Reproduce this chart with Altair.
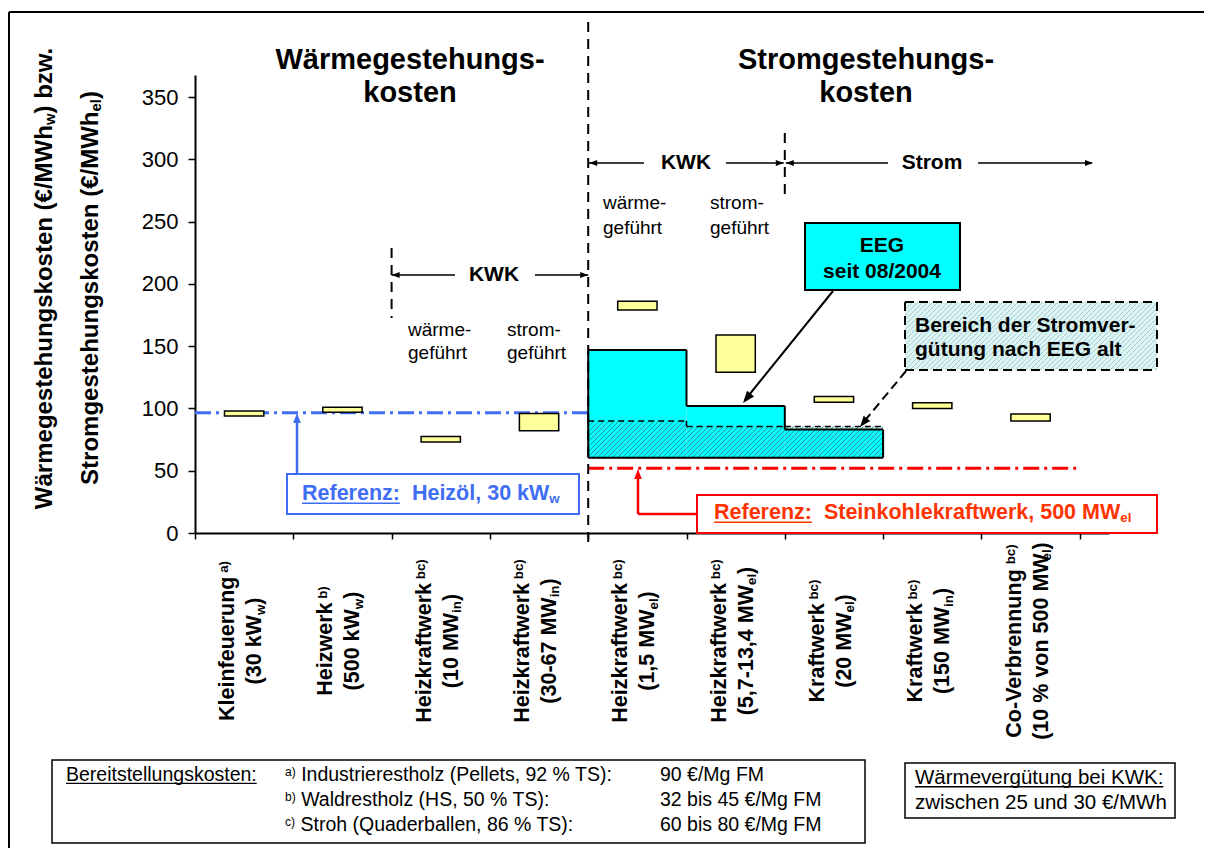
import math
import altair as alt
import pandas as pd

FONT = "Liberation Sans"

# ---------------- chart values ----------------
categories = ["Kleinfeuerung (30 kWw)", "Heizwerk (500 kWw)", "Heizkraftwerk (10 MWin)",
              "Heizkraftwerk (30-67 MWin)", "Heizkraftwerk (1,5 MWel)", "Heizkraftwerk (5,7-13,4 MWel)",
              "Kraftwerk (20 MWel)", "Kraftwerk (150 MWin)", "Co-Verbrennung (10 % von 500 MWel)"]
label_name = ["Kleinfeuerung", "Heizwerk", "Heizkraftwerk", "Heizkraftwerk", "Heizkraftwerk",
              "Heizkraftwerk", "Kraftwerk", "Kraftwerk", "Co-Verbrennung"]
label_note = ["a)", "b)", "bc)", "bc)", "bc)", "bc)", "bc)", "bc)", "bc)"]
label_size = ["(30 kW", "(500 kW", "(10 MW", "(30-67 MW", "(1,5 MW", "(5,7-13,4 MW",
              "(20 MW", "(150 MW", "(10 % von 500 MW"]
label_unit = ["w", "w", "in", "in", "el", "el", "el", "in", "el"]
cost_low = [94, 97, 73, 82, 179, 129, 105, 100, 90]
cost_high = [98, 101, 77.5, 96, 186, 159, 109.5, 104.5, 95.5]
eeg_new_top = [147, 102, 83]
eeg_old_top = [90, 85.5, 85.5]
eeg_base = 60.5
eeg_first = 4
ref_heat = 96.5
ref_power = 52
y_ticks = [0, 50, 100, 150, 200, 250, 300, 350]

# ---------------- geometry ----------------
X0, XS, Y0, YS = 195.0, 98.3, 533.0, 1.2457
PW, PH = 914, 458
XMAX, YMAX = PW / XS, PH / YS
TOT_W, TOT_H = 1196, 840


def X(px):
    return (px - X0) / XS


def Y(py):
    return (Y0 - py) / YS


def PX(x):
    return X0 + x * XS


def PY(v):
    return Y0 - v * YS


def _tbl(spec):
    d = {}
    for chars, w in spec:
        for c in chars:
            d[c] = w
    return d


REG = _tbl([(" ,./:;", 278), ("()-r", 333), ("ftI", 278), ("ijl", 222), ("0123456789€", 556),
            ("%", 889), ("abdeghnopquäöü", 556), ("ckszvxy", 500), ("m", 833), ("w", 722),
            ("ABEKPSVXY", 667), ("CDHNRU", 722), ("FTZ", 611), ("GOQ", 778), ("L", 556),
            ("M", 833), ("W", 944)])
BOLD = _tbl([(" ,./", 278), (":;()-!tf", 333), ("ijlI", 278), ("r", 389), ("z", 500),
             ("0123456789€acekvsxyä", 556), ("bdghnopquöü", 611), ("m", 889), ("w", 778),
             ("ABCDHKNRU", 722), ("EPSVX", 667), ("FTLZ", 611), ("GOQ", 778), ("M", 833),
             ("W", 944)])


def tw(s, size, bold):
    t = BOLD if bold else REG
    return sum(t.get(c, 556) for c in s) * size / 1000.0


texts, rules, heads, rects = [], [], [], []


def rule_px(x1, y1, x2, y2, color="black", w=2.0, dash="solid", layer="front"):
    rules.append(dict(x=X(x1), y=Y(y1), x2=X(x2), y2=Y(y2), color=color, w=w, dash=dash, layer=layer))


def rule_d(x1, v1, x2, v2, color="black", w=2.0, dash="solid", layer="front"):
    rules.append(dict(x=x1, y=v1, x2=x2, y2=v2, color=color, w=w, dash=dash, layer=layer))


def head(px, py, angle, color="black", length=10):
    heads.append(dict(x=X(px), y=Y(py), angle=angle, color=color, size=(2 * length) ** 2))


def rect_px(x1, y1, x2, y2, fill="white", stroke="black", sw=2.0):
    rects.append(dict(x=X(x1), y=Y(y1), x2=X(x2), y2=Y(y2), fill=fill, stroke=stroke, sw=sw))


def line(segs, cx, cy, size, bold=False, color="black", angle=0, align="center"):
    small = size * 0.62
    sizes = [size if k in ("n", "u") else small for _, k in segs]
    ws = [tw(t, s, bold) for (t, _), s in zip(segs, sizes)]
    total = sum(ws)
    pos = {"center": -total / 2, "left": 0.0, "right": -total}[align]
    for (t, k), s, w in zip(segs, sizes, ws):
        lead = len(t) - len(t.lstrip(" "))
        p = pos + tw(" " * lead, s, bold)
        off = {"n": 0.0, "u": 0.0, "sub": 0.25 * size, "sup": -0.17 * size}[k]
        if angle == 0:
            ax, ay = cx + p, cy + off
        else:
            ax, ay = cx + off, cy - p
        texts.append(dict(x=X(ax), y=Y(ay), text=t.strip(), size=s, color=color,
                          bold=bold, angle=angle))
        if k == "u":
            uy = cy + 0.43 * size
            rule_px(cx + p, uy, cx + pos + w, uy, color=color, w=max(1.0, size / 14.0))
        pos += w


def hatch(px0, px1, py0, py1, color, spacing=5.0, w=1.0):
    c = math.ceil((px0 + py0) / spacing) * spacing
    while c <= px1 + py1:
        xa = max(px0, c - py1)
        xb = min(px1, c - py0)
        if xb - xa > 0.3:
            rule_px(xa, c - xa, xb, c - xb, color=color, w=w, layer="hatch")
        c += spacing


BLUE = "#3f6ef5"
RED = "#ff0000"
RED_TXT = "#ff3300"

# ---------------- frame ----------------
rule_px(9, 12, 1204, 12, w=2, layer="back")
rule_px(9, 12, 9, 848, w=2, layer="back")

# ---------------- reference lines ----------------
rule_d(0, ref_heat, eeg_first, ref_heat, color=BLUE, w=3, dash="dashdot", layer="back")
rule_d(eeg_first, ref_power, 9, ref_power, color=RED, w=3, dash="dashdot", layer="back")

# ---------------- EEG areas ----------------
eeg_df = pd.DataFrame({"x0": [eeg_first + i for i in range(3)],
                       "x1": [eeg_first + i + 1 for i in range(3)],
                       "base": [eeg_base] * 3, "new": eeg_new_top, "old": eeg_old_top})
for i in range(3):
    hatch(PX(eeg_first + i), PX(eeg_first + i + 1), PY(eeg_old_top[i]), PY(eeg_base), "#2f9595")
for i in range(3):
    rule_d(eeg_first + i, eeg_old_top[i], eeg_first + i + 1, eeg_old_top[i], w=1.5, dash="fine")
    if i < 2 and eeg_old_top[i] != eeg_old_top[i + 1]:
        rule_d(eeg_first + i + 1, eeg_old_top[i], eeg_first + i + 1, eeg_old_top[i + 1], w=1.5, dash="fine")
rule_d(eeg_first, eeg_base, eeg_first, eeg_new_top[0], w=2)
for i in range(3):
    rule_d(eeg_first + i, eeg_new_top[i], eeg_first + i + 1, eeg_new_top[i], w=2)
    if i < 2:
        rule_d(eeg_first + i + 1, eeg_new_top[i], eeg_first + i + 1, eeg_new_top[i + 1], w=2)
rule_d(eeg_first + 3, eeg_new_top[2], eeg_first + 3, eeg_base, w=2)
rule_d(eeg_first, eeg_base, eeg_first + 3, eeg_base, w=2)

# ---------------- dividers ----------------
rule_px(PX(4), 22, PX(4), 545, w=2, dash="dash")
rule_px(PX(2), 248, PX(2), 318, w=2, dash="dash")
rule_px(PX(6), 133, PX(6), 200, w=2, dash="dash")

# ---------------- titles ----------------
line([("Wärmegestehungs-", "n")], 410, 60, 29, bold=True)
line([("kosten", "n")], 410, 93, 29, bold=True)
line([("Stromgestehungs-", "n")], 866, 60, 29, bold=True)
line([("kosten", "n")], 866, 93, 29, bold=True)

# ---------------- y title ----------------
line([("Wärmegestehungskosten (€/MWh", "n"), ("w", "sub"), (") bzw.", "n")], 45, 278, 24, bold=True, angle=270)
line([("Stromgestehungskosten (€/MWh", "n"), ("el", "sub"), (")", "n")], 91, 288, 24, bold=True, angle=270)

# ---------------- category labels ----------------
for i in range(len(categories)):
    c = PX(i + 0.5)
    line([(label_name[i], "n"), (" " + label_note[i], "sup")], c - 16, 641, 21.5, bold=True, angle=270)
    line([(label_size[i], "n"), (label_unit[i], "sub"), (")", "n")], c + 11, 641, 21.5, bold=True, angle=270)

# ---------------- KWK / Strom annotations ----------------
rule_px(PX(2), 275, 455, 275, w=1.5)
rule_px(535, 275, PX(4), 275, w=1.5)
head(PX(2), 275, 270, length=8)
head(PX(4), 275, 90, length=8)
line([("KWK", "n")], 494, 275, 21, bold=True)
line([("wärme-", "n")], 408, 330, 19, align="left")
line([("geführt", "n")], 408, 353, 19, align="left")
line([("strom-", "n")], 507, 330, 19, align="left")
line([("geführt", "n")], 507, 353, 19, align="left")

rule_px(PX(4), 163, 644, 163, w=1.5)
rule_px(726, 163, PX(6) - 1, 163, w=1.5)
head(PX(4) + 1, 163, 270, length=8)
head(PX(6) - 1, 163, 90, length=8)
line([("KWK", "n")], 686, 163, 21, bold=True)
rule_px(PX(6) + 1, 163, 888, 163, w=1.5)
rule_px(978, 163, 1092, 163, w=1.5)
head(PX(6) + 1, 163, 270, length=8)
head(1093, 163, 90, length=8)
line([("Strom", "n")], 932, 163, 21, bold=True)
line([("wärme-", "n")], 603, 203, 19, align="left")
line([("geführt", "n")], 603, 228, 19, align="left")
line([("strom-", "n")], 710, 203, 19, align="left")
line([("geführt", "n")], 710, 228, 19, align="left")

# ---------------- EEG boxes ----------------
rect_px(805, 223, 960, 290, fill="#00ffff", stroke="black", sw=2)
line([("EEG", "n")], 882, 246, 21, bold=True)
line([("seit 08/2004", "n")], 882, 272, 21, bold=True)
rule_px(833, 291, 745, 400, w=2)
head(743, 403, 219, length=12)

rect_px(905, 302, 1157, 370, fill="#dcf4f4", stroke="black", sw=0)
hatch(905, 1157, 302, 370, "#a9cfcf")
for (a, b, c_, d) in [(905, 302, 1157, 302), (905, 370, 1157, 370), (905, 302, 905, 370), (1157, 302, 1157, 370)]:
    rule_px(a, b, c_, d, w=2, dash="bdash")
line([("Bereich der Stromver-", "n")], 915, 326, 21, bold=True, align="left")
line([("gütung nach EEG alt", "n")], 915, 350, 21, bold=True, align="left")
rule_px(906, 371, 862, 424, w=2, dash="bdash")
head(860, 427, 219, length=11)

# ---------------- reference boxes ----------------
rect_px(287, 474, 579, 514, fill="white", stroke=BLUE, sw=2)
line([("Referenz:", "u"), ("  Heizöl, 30 kW", "n"), ("w", "sub")], 302, 494, 21.5, bold=True, color=BLUE, align="left")
rule_px(297, 474, 297, 422, color=BLUE, w=2.5)
head(297, 413, 0, color=BLUE, length=10)

rect_px(697, 495, 1157, 533, fill="white", stroke=RED, sw=2)
line([("Referenz:", "u"), ("  Steinkohlekraftwerk, 500 MW", "n"), ("el", "sub")], 714, 513, 21.5, bold=True, color=RED_TXT, align="left")
rule_px(697, 514, 638, 514, color=RED, w=2.5)
rule_px(638, 514, 638, 478, color=RED, w=2.5)
head(638, 469, 0, color=RED, length=10)

# ---------------- bottom boxes ----------------
rect_px(52, 760, 865, 843, fill="white", stroke="black", sw=1.5)
line([("Bereitstellungskosten:", "u")], 66, 775, 19.5, align="left")
rows = [("a)", " Industrierestholz (Pellets, 92 % TS):", "90 €/Mg FM"),
        ("b)", " Waldrestholz (HS, 50 % TS):", "32 bis 45 €/Mg FM"),
        ("c)", " Stroh (Quaderballen, 86 % TS):", "60 bis 80 €/Mg FM")]
for j, (n, t, v) in enumerate(rows):
    yy = 775 + 25 * j
    line([(n, "sup"), (t, "n")], 285, yy, 19.5, align="left")
    line([(v, "n")], 660, yy, 19.5, align="left")

rect_px(905, 763, 1175, 818, fill="white", stroke="black", sw=1.5)
line([("Wärmevergütung bei KWK:", "u")], 915, 778, 20.5, align="left")
line([("zwischen 25 und 30 €/MWh", "n")], 915, 803, 20.5, align="left")

# ---------------- build chart ----------------
xs = alt.Scale(domain=[0, XMAX], nice=False, zero=False)
ys = alt.Scale(domain=[0, YMAX], nice=False, zero=False)
AXX = alt.Axis(values=list(range(10)), labels=False, title=None, grid=False, tickSize=6,
               tickColor="black", tickWidth=1.5, domainColor="black", domainWidth=2)
AXY = alt.Axis(values=y_ticks, title=None, grid=False, labelFont=FONT, labelFontSize=22,
               labelColor="black", tickSize=7, tickColor="black", tickWidth=1.5,
               domainColor="black", domainWidth=2, labelPadding=10)


def ex(f="x"):
    return alt.X(f"{f}:Q", scale=xs, axis=AXX)


def ey(f="y"):
    return alt.Y(f"{f}:Q", scale=ys, axis=AXY)


DASH = {"dash": [10, 7], "dashdot": [16, 5, 3, 5], "bdash": [9, 5], "fine": [6, 4]}


def rule_layers(layer):
    df = pd.DataFrame([r for r in rules if r["layer"] == layer])
    out = []
    for (dash, w), g in df.groupby(["dash", "w"]):
        kw = dict(strokeWidth=float(w))
        if dash != "solid":
            kw["strokeDash"] = DASH[dash]
        out.append(alt.Chart(g).mark_rule(**kw).encode(
            x=ex("x"), y=ey("y"), x2="x2:Q", y2="y2:Q",
            color=alt.Color("color:N", scale=None)))
    return out


bdf = pd.DataFrame({"cat": categories, "low": cost_low, "high": cost_high,
                    "pos": list(range(len(categories)))})
boxes = alt.Chart(bdf).transform_calculate(
    x0="datum.pos + 0.3", x1="datum.pos + 0.7"
).mark_rect(fill="#ffff99", stroke="black", strokeWidth=1.5).encode(
    x=ex("x0"), x2="x1:Q", y=ey("low"), y2="high:Q",
    tooltip=["cat:N", "low:Q", "high:Q"],
)

hatch_fill = alt.Chart(eeg_df).mark_rect(fill="#d8f6f6", strokeWidth=0).encode(
    x=ex("x0"), x2="x1:Q", y=ey("base"), y2="old:Q")
cyan = alt.Chart(eeg_df).mark_rect(fill="#00ffff", strokeWidth=0).encode(
    x=ex("x0"), x2="x1:Q", y=ey("base"), y2="new:Q")

rdf = pd.DataFrame(rects)
ann_rects = alt.Chart(rdf).mark_rect().encode(
    x=ex("x"), x2="x2:Q", y=ey("y"), y2="y2:Q",
    fill=alt.Fill("fill:N", scale=None), stroke=alt.Stroke("stroke:N", scale=None),
    strokeWidth=alt.StrokeWidth("sw:Q", scale=None))

hdf = pd.DataFrame(heads)
arrowheads = alt.Chart(hdf).mark_point(shape="M0,0L-0.38,1L0.38,1Z", filled=True, opacity=1,
                                       strokeWidth=0).encode(
    x=ex("x"), y=ey("y"), angle=alt.Angle("angle:Q", scale=None),
    size=alt.Size("size:Q", scale=None), color=alt.Color("color:N", scale=None))

tdf = pd.DataFrame(texts)
text_layers = []
for (bold, angle), g in tdf.groupby(["bold", "angle"]):
    text_layers.append(alt.Chart(g).mark_text(
        align="left", baseline="middle", font=FONT,
        fontWeight="bold" if bold else "normal", angle=int(angle)).encode(
        x=ex("x"), y=ey("y"), text="text:N",
        size=alt.Size("size:Q", scale=None), color=alt.Color("color:N", scale=None)))

layers = (rule_layers("back") + [hatch_fill, cyan, ann_rects] + rule_layers("hatch")
          + rule_layers("front") + [boxes, arrowheads] + text_layers)

chart = alt.layer(*layers).properties(
    width=PW, height=PH,
    autosize=alt.AutoSizeParams(type="none"),
    padding={"left": X0 - 8, "top": Y0 - 8 - PH, "right": TOT_W - (X0 - 8) - PW,
             "bottom": TOT_H - (Y0 - 8 - PH) - PH},
    background="white",
).configure_view(stroke=None)

chart.save("out.html", embed_options={"renderer": "svg", "actions": False})
